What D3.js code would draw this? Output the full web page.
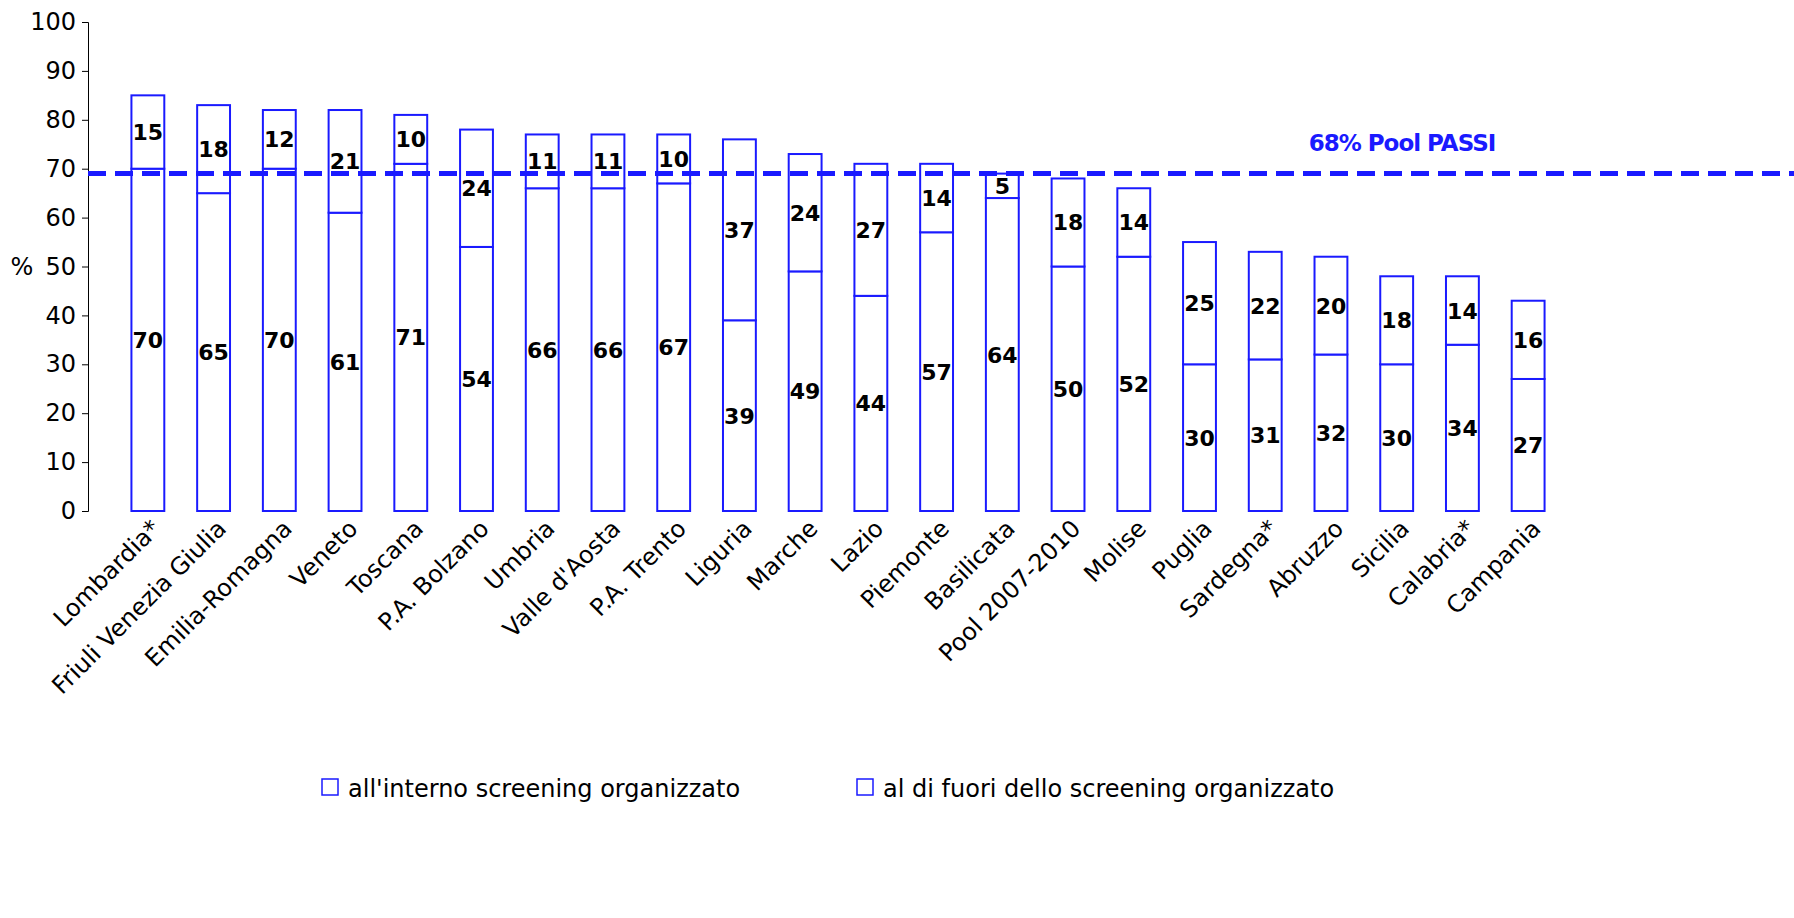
<!DOCTYPE html>
<html><head><meta charset="utf-8">
<script src="https://cdn.jsdelivr.net/npm/d3@7"></script>
<style>body{margin:0;background:#fff}text{font-family:"DejaVu Sans",Verdana,sans-serif}</style>
</head><body><svg id="c" width="1794" height="918"></svg>
<script>
const categories = ["Lombardia*","Friuli Venezia Giulia","Emilia-Romagna","Veneto","Toscana","P.A. Bolzano","Umbria","Valle d'Aosta","P.A. Trento","Liguria","Marche","Lazio","Piemonte","Basilicata","Pool 2007-2010","Molise","Puglia","Sardegna*","Abruzzo","Sicilia","Calabria*","Campania"];
const inside  = [70,65,70,61,71,54,66,66,67,39,49,44,57,64,50,52,30,31,32,30,34,27];
const outside = [15,18,12,21,10,24,11,11,10,37,24,27,14,5,18,14,25,22,20,18,14,16];
const yTicks = [0,10,20,30,40,50,60,70,80,90,100];
const poolValue = 69;

const svg = d3.select('#c'), blue = '#1a1aff';
const x = d3.scaleBand().domain(categories).range([115, 1561]).paddingInner(0.5).paddingOuter(0.25);
const y = d3.scaleLinear().domain([0,100]).range([511,22]);

// y axis
const ya = svg.append('g').attr('transform','translate(88,0)')
  .call(d3.axisLeft(y).tickValues(yTicks).tickSize(6).tickPadding(6));
ya.select('.domain').attr('stroke','#000');
ya.selectAll('text').attr('font-size',24).attr('fill','#000').style('font-family','"DejaVu Sans",Verdana,sans-serif');
svg.append('text').attr('x',22).attr('y',275).attr('text-anchor','middle').attr('font-size',24).text('%');

// bars
const g = svg.append('g');
categories.forEach((c,i) => {
  const bx = x(c), w = x.bandwidth();
  const total = inside[i] + outside[i];
  g.append('rect').attr('x',bx).attr('y',y(inside[i])).attr('width',w).attr('height',y(0)-y(inside[i]))
    .attr('fill','#fff').attr('stroke',blue).attr('stroke-width',2);
  g.append('rect').attr('x',bx).attr('y',y(total)).attr('width',w).attr('height',y(inside[i])-y(total))
    .attr('fill','#fff').attr('stroke',blue).attr('stroke-width',2);
});

// pool line
svg.append('line').attr('x1',88).attr('x2',1794).attr('y1',y(poolValue)).attr('y2',y(poolValue))
  .attr('stroke',blue).attr('stroke-width',5).attr('stroke-dasharray','18,9');
svg.append('text').attr('x',1402).attr('y',151).attr('text-anchor','middle').attr('font-size',23)
  .attr('font-weight','bold').attr('fill',blue).attr('letter-spacing',-1).text('68% Pool PASSI');

// value labels
categories.forEach((c,i) => {
  const cx = x(c) + x.bandwidth()/2;
  svg.append('text').attr('x',cx).attr('y',y(inside[i]/2)+8).attr('text-anchor','middle')
    .attr('font-size',22).attr('font-weight','bold').text(inside[i]);
  svg.append('text').attr('x',cx).attr('y',y(inside[i]+outside[i]/2)+8).attr('text-anchor','middle')
    .attr('font-size',22).attr('font-weight','bold').text(outside[i]);
});

// category labels
categories.forEach(c => {
  const cx = x(c) + x.bandwidth()/2 + 14;
  svg.append('text').attr('transform',`translate(${cx},530) rotate(-45)`).attr('text-anchor','end')
    .attr('font-size',24).text(c);
});

// legend
[["all'interno screening organizzato",322],["al di fuori dello screening organizzato",857]].forEach(([t,lx]) => {
  svg.append('rect').attr('x',lx).attr('y',779).attr('width',16).attr('height',16).attr('fill','#fff').attr('stroke',blue).attr('stroke-width',1.5);
  svg.append('text').attr('x',lx+26).attr('y',797).attr('font-size',24).text(t);
});
</script></body></html>
